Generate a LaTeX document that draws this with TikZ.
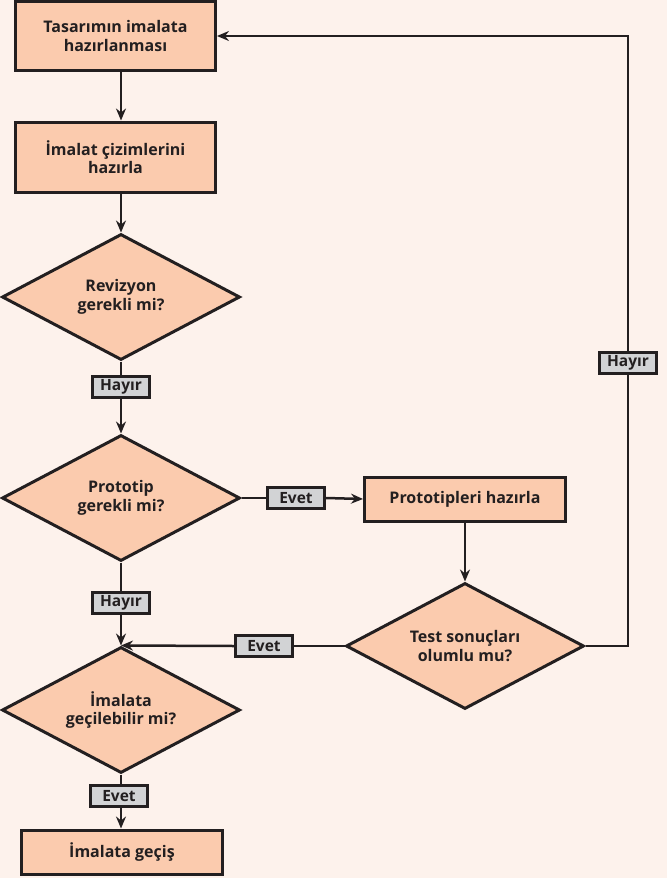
\documentclass[tikz,border=0pt]{standalone}
\usepackage{fontspec}
\setmainfont{Open Sans}
\usetikzlibrary{arrows.meta,shapes.geometric}
\definecolor{bg}{HTML}{FDF2EC}
\definecolor{peach}{HTML}{FBCBAE}
\definecolor{ink}{HTML}{231F20}
\definecolor{tagfill}{HTML}{D2D3D5}
\begin{document}
\begin{tikzpicture}[x=1pt,y=-1pt,
  txt/.style={font=\bfseries\fontsize{16}{18.5}\selectfont, text=ink, align=center},
  proc/.style={txt, draw=ink, line width=3pt, fill=peach, minimum width=200pt,
    minimum height=69pt, inner sep=0pt},
  dec/.style={txt, diamond, aspect=2, draw=ink, line width=3pt, fill=peach,
    minimum width=238pt, minimum height=126pt, inner sep=0pt},
  tagbox/.style={txt, font=\bfseries\fontsize{15.5}{17}\selectfont, draw=ink,
    line width=3pt, fill=tagfill, minimum width=57pt, minimum height=21pt, inner sep=0pt},
  link/.style={draw=ink, line width=2.5pt},
  arr/.style={link, -{Stealth[length=12pt,width=10pt,inset=4pt]}}]

% page and background
\fill[bg] (0,0) rectangle (667,878);
\useasboundingbox (0,0) rectangle (667,878);

% process boxes and decisions
\node[proc] (b1) at (115.5,36) {Tasarımın imalata\\hazırlanması};
\node[proc, minimum height=70pt] (b2) at (115.5,157) {İmalat çizimlerini\\hazırla};
\node[dec] (d1) at (121,297) {Revizyon\\gerekli mi?};
\node[tagbox] (h1) at (121,387) {Hayır};
\node[dec] (d2) at (121,498) {Prototip\\gerekli mi?};
\node[tagbox] (e1) at (296,498) {Evet};
\node[proc, minimum width=201pt, minimum height=44pt] (pb) at (465,499) {Prototipleri hazırla};
\node[dec] (d4) at (465,646) {Test sonuçları\\olumlu mu?};
\node[tagbox] (e2) at (264,646) {Evet};
\node[tagbox] (h2) at (121,603) {Hayır};
\node[dec] (d3) at (121,710) {İmalata\\geçilebilir mi?};
\node[tagbox] (e3) at (119,796) {Evet};
\node[proc, minimum width=201pt, minimum height=44pt] (b5) at (122,852) {İmalata geçiş};
\node[tagbox] (hr) at (628,363) {Hayır};

% connectors
\draw[arr] (b1.south -| d1.north) -- (b2.north -| d1.north);
\draw[arr] (b2.south -| d1.north) -- (d1.north);
\draw[link] (d1.south) -- (h1.north -| d1.south);
\draw[arr] (h1.south -| d2.north) -- (d2.north);
\draw[link] (d2.east) -- (e1.west);
\draw[arr] (e1.east) -- (pb.west);
\draw[arr] (pb.south) -- (d4.north);
\draw[link] (d2.south) -- (h2.north);
\draw[arr] (h2.south) -- (d3.north);
\draw[link] (d4.west) -- (e2.east);
\draw[arr] (e2.west) -- (d3.north);
\draw[link] (d3.south) -- (e3.north -| d3.south);
\draw[arr] (e3.south -| d3.south) -- (b5.north -| d3.south);
\draw[link] (d4.east) -| (hr.south);
\draw[arr] (hr.north) |- (b1.east);
\end{tikzpicture}
\end{document}
